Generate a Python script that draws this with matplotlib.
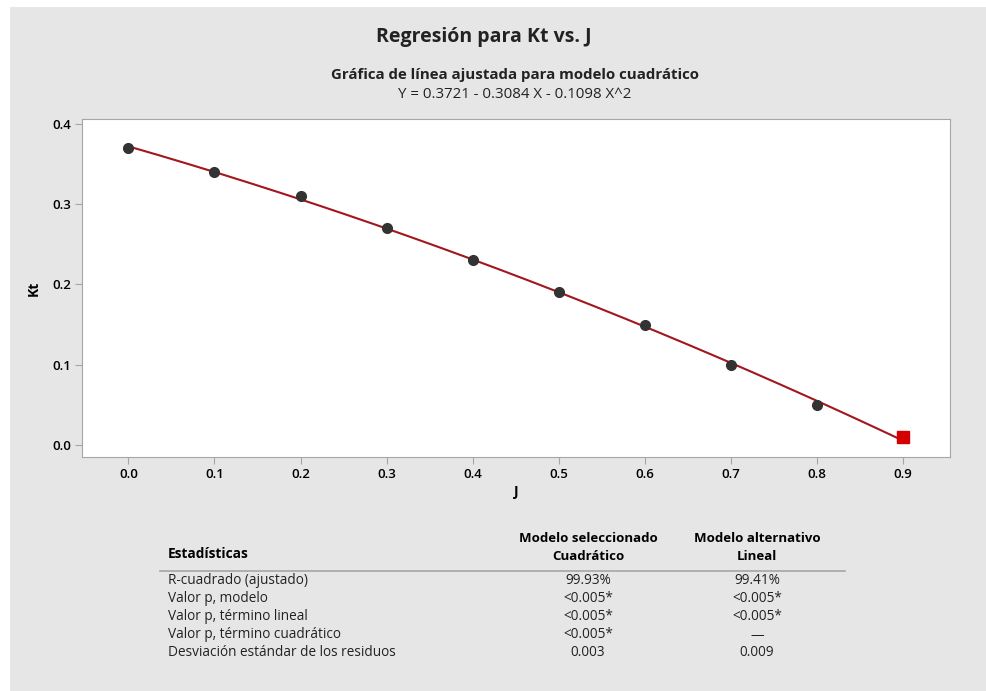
import numpy as np
import matplotlib.pyplot as plt
from matplotlib.patches import Rectangle

plt.rcParams['font.family'] = ['Open Sans', 'DejaVu Sans']

# Datos
j_vals = [0.0, 0.1, 0.2, 0.3, 0.4, 0.5, 0.6, 0.7, 0.8, 0.9]
kt_vals = [0.37, 0.34, 0.31, 0.27, 0.23, 0.19, 0.15, 0.10, 0.05, 0.01]
coefs = [0.3721, -0.3084, -0.1098]  # Y = b0 + b1 X + b2 X^2

stat_names = ["R-cuadrado (ajustado)", "Valor p, modelo", "Valor p, término lineal",
              "Valor p, término cuadrático", "Desviación estándar de los residuos"]
quad_vals = ["99.93%", "<0.005*", "<0.005*", "<0.005*", "0.003"]
lin_vals = ["99.41%", "<0.005*", "<0.005*", "—", "0.009"]

W, H = 987, 691
fig = plt.figure(figsize=(W / 100, H / 100), dpi=100)
fig.patch.set_facecolor('white')
fig.patches.append(Rectangle((10 / W, 0), 1 - 10 / W, 1 - 7 / H, transform=fig.transFigure,
                             facecolor='#e6e6e6', edgecolor='none', zorder=-10))

def fx(px):
    return px / W

def fy(py):
    return 1 - py / H

ax = fig.add_axes([fx(82), fy(457), fx(950) - fx(82), fy(119) - fy(457)])
ax.set_facecolor('white')

xs = np.linspace(0, 0.9, 200)
ys = coefs[0] + coefs[1] * xs + coefs[2] * xs ** 2
ax.plot(xs, ys, color='#a3161b', lw=1.5, zorder=2)
ax.plot(j_vals[:-1], kt_vals[:-1], 'o', color='#333333', ms=7, zorder=3)
ax.plot(j_vals[-1:], kt_vals[-1:], 's', color='#d40000', ms=8, zorder=3)

ax.set_xlim(-0.054, 0.955)
ax.set_ylim(-0.015, 0.4062)
ax.set_xticks(j_vals)
ax.set_xticklabels([f"{v:.1f}" for v in j_vals])
ax.set_yticks([0.0, 0.1, 0.2, 0.3, 0.4])
ax.set_yticklabels(["0.0", "0.1", "0.2", "0.3", "0.4"])
for sp in ax.spines.values():
    sp.set_color('#a6a6a6')
ax.tick_params(direction='out', length=5, color='#a6a6a6', labelsize=9.5, pad=3)
for lbl in ax.get_xticklabels() + ax.get_yticklabels():
    lbl.set_fontweight('semibold')
ax.set_xlabel("J", fontsize=10, fontweight='bold', labelpad=3)
ax.set_ylabel("Kt", fontsize=10, fontweight='bold', labelpad=8)

# Titulos
fig.text(fx(484), fy(37), "Regresión para Kt vs. J", ha='center', va='center',
         fontsize=14, fontweight='bold', color='#222222')
fig.text(fx(515), fy(75), "Gráfica de línea ajustada para modelo cuadrático", ha='center',
         va='center', fontsize=10.8, fontweight='bold', color='#222222')
fig.text(fx(515), fy(94), "Y = 0.3721 - 0.3084 X - 0.1098 X^2", ha='center', va='center',
         fontsize=10.8, color='#222222')

# Tabla de estadisticas
c1, c2 = 588, 757
fs = 9.8
fig.text(fx(168), fy(554), "Estadísticas", ha='left', va='center', fontsize=fs, fontweight='bold')
fig.text(fx(c1), fy(539), "Modelo seleccionado", ha='center', va='center', fontsize=9.5, fontweight='bold')
fig.text(fx(c1), fy(556), "Cuadrático", ha='center', va='center', fontsize=9.5, fontweight='bold')
fig.text(fx(c2), fy(539), "Modelo alternativo", ha='center', va='center', fontsize=9.5, fontweight='bold')
fig.text(fx(c2), fy(556), "Lineal", ha='center', va='center', fontsize=9.5, fontweight='bold')
fig.add_artist(plt.Line2D([fx(160), fx(845)], [fy(571), fy(571)], color='#a6a6a6', lw=1.2))
for i, (name, q, l) in enumerate(zip(stat_names, quad_vals, lin_vals)):
    y = fy(581 + 18 * i)
    fig.text(fx(168), y, name, ha='left', va='center', fontsize=fs, color='#222222')
    fig.text(fx(c1), y, q, ha='center', va='center', fontsize=fs, color='#222222')
    fig.text(fx(c2), y, l, ha='center', va='center', fontsize=fs, color='#222222')

fig.savefig("out.png", dpi=100, facecolor=fig.get_facecolor())
